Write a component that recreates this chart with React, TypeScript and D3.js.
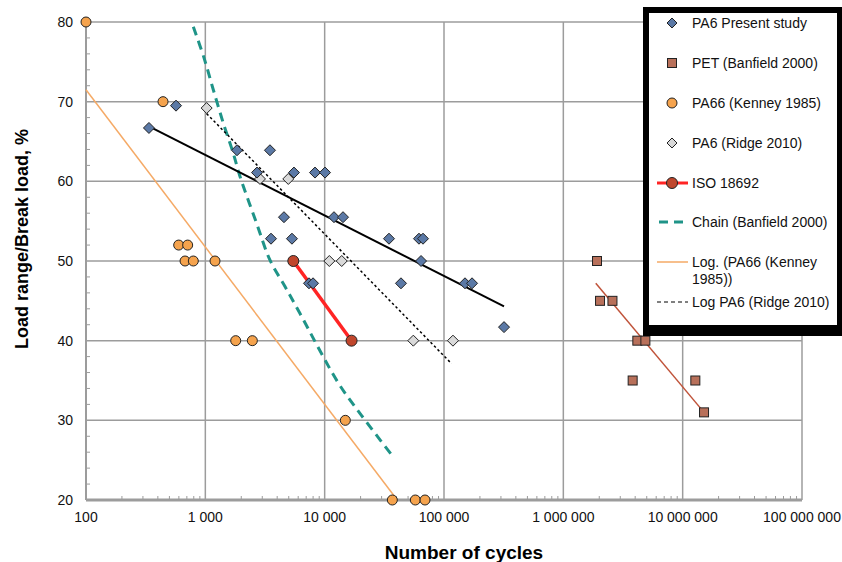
import React from "react";
import * as d3 from "d3";

// ---- data ----
const pa6Cycles = [337, 568, 1842, 3480, 2710, 5530, 8300, 10070, 4560, 11970, 14250, 3550, 5320, 34600, 61700, 66700, 64200, 7390, 7990, 43600, 150000, 171800, 318400];
const pa6Load = [66.7, 69.5, 63.9, 63.9, 61.1, 61.1, 61.1, 61.1, 55.5, 55.5, 55.5, 52.8, 52.8, 52.8, 52.8, 52.8, 50.0, 47.2, 47.2, 47.2, 47.2, 47.2, 41.7];

const petCycles = [1915000, 2030000, 2580000, 4170000, 4870000, 3810000, 12770000, 15100000];
const petLoad = [50, 45, 45, 40, 40, 35, 35, 31];

const pa66Cycles = [100, 442, 598, 711, 676, 793, 1205, 1797, 2477, 14900, 36900, 57500, 69300];
const pa66Load = [80, 70, 52, 52, 50, 50, 50, 40, 40, 30, 20, 20, 20];

const ridgeCycles = [1026, 2871, 4957, 10940, 13900, 55300, 118900];
const ridgeLoad = [69.2, 60.3, 60.3, 50, 50, 40, 40];

const isoCycles = [5460, 16800];
const isoLoad = [50, 40];

const chainCycles = [793, 975, 1166, 1415, 1716, 1953, 2694, 3483, 4652, 6215, 13000, 20400, 37600];
const chainLoad = [79.4, 75.5, 71.5, 67.3, 63.5, 60.6, 54.7, 50.1, 46.8, 43.4, 34.7, 30.6, 25.4];

const pa6TrendCycles = [337, 318400];
const pa6TrendLoad = [66.9, 44.3];
const pa66TrendCycles = [100, 40600];
const pa66TrendLoad = [71.5, 20];
const petTrendCycles = [1870000, 15100000];
const petTrendLoad = [47.2, 31.0];
const ridgeTrendCycles = [1026, 115900];
const ridgeTrendLoad = [68.5, 37.1];

const xTicks = [100, 1000, 10000, 100000, 1000000, 10000000, 100000000];
const xTickLabels = ["100", "1 000", "10 000", "100 000", "1 000 000", "10 000 000", "100 000 000"];
const yTicks = [20, 30, 40, 50, 60, 70, 80];

const legendLabels = [
  ["PA6 Present study"],
  ["PET (Banfield 2000)"],
  ["PA66 (Kenney 1985)"],
  ["PA6 (Ridge 2010)"],
  ["ISO 18692"],
  ["Chain (Banfield 2000)"],
  ["Log. (PA66 (Kenney", "1985))"],
  ["Log PA6 (Ridge 2010)"],
];

// ---- layout ----
const W = 842, H = 562;
const L = 86, R = 802, T = 22, B = 500;
const FONT = "'Liberation Sans', Arial, sans-serif";

const C = {
  grid: "#9c9c9c",
  pa6: "#5b79a6",
  pet: "#b8705a",
  pa66: "#f5a34d",
  ridge: "#d9d9d9",
  isoLine: "#ff2424",
  isoDot: "#c0462c",
  chain: "#1f9488",
  pa66Trend: "#f5aa66",
  petTrend: "#c0533a",
  outline: "#222",
};

const zip = (a: number[], b: number[]) => a.map((v, i) => [v, b[i]] as [number, number]);

export default function App() {
  const x = d3.scaleLog().domain([100, 1e8]).range([L, R]);
  const y = d3.scaleLinear().domain([20, 80]).range([B, T]);

  const minorX: number[] = [];
  for (let d = 2; d < 8; d++) for (let k = 2; k <= 9; k++) minorX.push(k * Math.pow(10, d));
  const minorY = d3.range(22, 80, 2).filter((v) => v % 10 !== 0);

  const line = d3.line<[number, number]>().x((d) => x(d[0])).y((d) => y(d[1]));
  const curve = d3.line<[number, number]>().x((d) => x(d[0])).y((d) => y(d[1])).curve(d3.curveCatmullRom.alpha(0.5));

  const diamond = (cx: number, cy: number, r: number) => `M${cx},${cy - r}L${cx + r},${cy}L${cx},${cy + r}L${cx - r},${cy}Z`;

  const legendY = [23, 63, 103, 143, 183, 222, 262, 302];
  const mx = 672, lx0 = 657, lx1 = 688, tx = 692;

  return (
    <svg width={W} height={H} style={{ position: "absolute", left: 0, top: 0, background: "#fff" }} fontFamily={FONT}>
      <rect x={0} y={0} width={W} height={H} fill="#fff" />
      {/* grid */}
      {xTicks.map((t) => (
        <line key={"gx" + t} x1={x(t)} x2={x(t)} y1={T} y2={B} stroke={C.grid} strokeWidth={1.5} />
      ))}
      {yTicks.map((t) => (
        <line key={"gy" + t} x1={L} x2={R} y1={y(t)} y2={y(t)} stroke={C.grid} strokeWidth={1.5} />
      ))}
      {/* axes */}
      <line x1={L} x2={L} y1={T} y2={B} stroke={C.grid} strokeWidth={2} />
      <line x1={L} x2={R} y1={B} y2={B} stroke={C.grid} strokeWidth={3} />
      {minorX.map((t) => (
        <line key={"mx" + t} x1={x(t)} x2={x(t)} y1={B} y2={B - 4} stroke={C.grid} strokeWidth={1} />
      ))}
      {minorY.map((t) => (
        <line key={"my" + t} x1={L} x2={L + 4} y1={y(t)} y2={y(t)} stroke={C.grid} strokeWidth={1} />
      ))}
      {/* tick labels */}
      {yTicks.map((t) => (
        <text key={"ly" + t} x={73} y={y(t)} dy="0.36em" textAnchor="end" fontSize={14} fill="#111">{t}</text>
      ))}
      {xTicks.map((t, i) => (
        <text key={"lx" + t} x={x(t)} y={522} textAnchor="middle" fontSize={14} fill="#111">{xTickLabels[i]}</text>
      ))}
      {/* axis titles */}
      <text x={464} y={559} textAnchor="middle" fontSize={19} fontWeight="bold" fill="#000">Number of cycles</text>
      <text transform={`translate(28,239) rotate(-90)`} textAnchor="middle" fontSize={18} fontWeight="bold" fill="#000">Load range/Break load, %</text>

      {/* trend lines */}
      <path d={line(zip(pa66TrendCycles, pa66TrendLoad)) || ""} fill="none" stroke={C.pa66Trend} strokeWidth={1.5} />
      <path d={line(zip(petTrendCycles, petTrendLoad)) || ""} fill="none" stroke={C.petTrend} strokeWidth={1.5} />
      <path d={curve(zip(chainCycles, chainLoad)) || ""} fill="none" stroke={C.chain} strokeWidth={3} strokeDasharray="9,6" />
      <path d={line(zip(ridgeTrendCycles, ridgeTrendLoad)) || ""} fill="none" stroke="#000" strokeWidth={1.5} strokeDasharray="2.5,2.5" />
      <path d={line(zip(pa6TrendCycles, pa6TrendLoad)) || ""} fill="none" stroke="#000" strokeWidth={2} />
      <path d={line(zip(isoCycles, isoLoad)) || ""} fill="none" stroke={C.isoLine} strokeWidth={3.5} />

      {/* markers */}
      {zip(ridgeCycles, ridgeLoad).map((d, i) => (
        <path key={"r" + i} d={diamond(x(d[0]), y(d[1]), 5.5)} fill={C.ridge} stroke={C.outline} strokeWidth={1} />
      ))}
      {zip(pa66Cycles, pa66Load).map((d, i) => (
        <circle key={"o" + i} cx={x(d[0])} cy={y(d[1])} r={5} fill={C.pa66} stroke={C.outline} strokeWidth={1} />
      ))}
      {zip(petCycles, petLoad).map((d, i) => (
        <rect key={"p" + i} x={x(d[0]) - 4.5} y={y(d[1]) - 4.5} width={9} height={9} fill={C.pet} stroke={C.outline} strokeWidth={1} />
      ))}
      {zip(pa6Cycles, pa6Load).map((d, i) => (
        <path key={"b" + i} d={diamond(x(d[0]), y(d[1]), 5.5)} fill={C.pa6} stroke={C.outline} strokeWidth={1} />
      ))}
      {zip(isoCycles, isoLoad).map((d, i) => (
        <circle key={"i" + i} cx={x(d[0])} cy={y(d[1])} r={5.5} fill={C.isoDot} stroke={C.outline} strokeWidth={1} />
      ))}

      {/* legend */}
      <rect x={643} y={7} width={W - 643 + 5} height={329} fill="#000" />
      <rect x={649} y={13} width={188} height={312} fill="#fff" />
      <path d={diamond(mx, legendY[0], 5)} fill={C.pa6} stroke={C.outline} strokeWidth={1} />
      <rect x={mx - 4.5} y={legendY[1] - 4.5} width={9} height={9} fill={C.pet} stroke={C.outline} strokeWidth={1} />
      <circle cx={mx} cy={legendY[2]} r={5} fill={C.pa66} stroke={C.outline} strokeWidth={1} />
      <path d={diamond(mx, legendY[3], 5)} fill={C.ridge} stroke={C.outline} strokeWidth={1} />
      <line x1={lx0} x2={lx1} y1={legendY[4]} y2={legendY[4]} stroke={C.isoLine} strokeWidth={3} />
      <circle cx={mx} cy={legendY[4]} r={5.5} fill={C.isoDot} stroke={C.outline} strokeWidth={1} />
      <line x1={lx0} x2={lx1} y1={legendY[5]} y2={legendY[5]} stroke={C.chain} strokeWidth={3} strokeDasharray="9,6" strokeDashoffset={-2} />
      <line x1={lx0} x2={lx1} y1={legendY[6]} y2={legendY[6]} stroke={C.pa66Trend} strokeWidth={1.5} />
      <line x1={lx0} x2={lx1} y1={legendY[7]} y2={legendY[7]} stroke="#000" strokeWidth={1} strokeDasharray="4,3" />
      {legendLabels.map((lines, i) => (
        <text key={"lg" + i} x={tx} y={legendY[i]} dy="0.36em" fontSize={14} fill="#111">
          {lines.map((s, j) => (
            <tspan key={j} x={tx} dy={j === 0 ? "0.36em" : 17}>{s}</tspan>
          ))}
        </text>
      ))}
    </svg>
  );
}
